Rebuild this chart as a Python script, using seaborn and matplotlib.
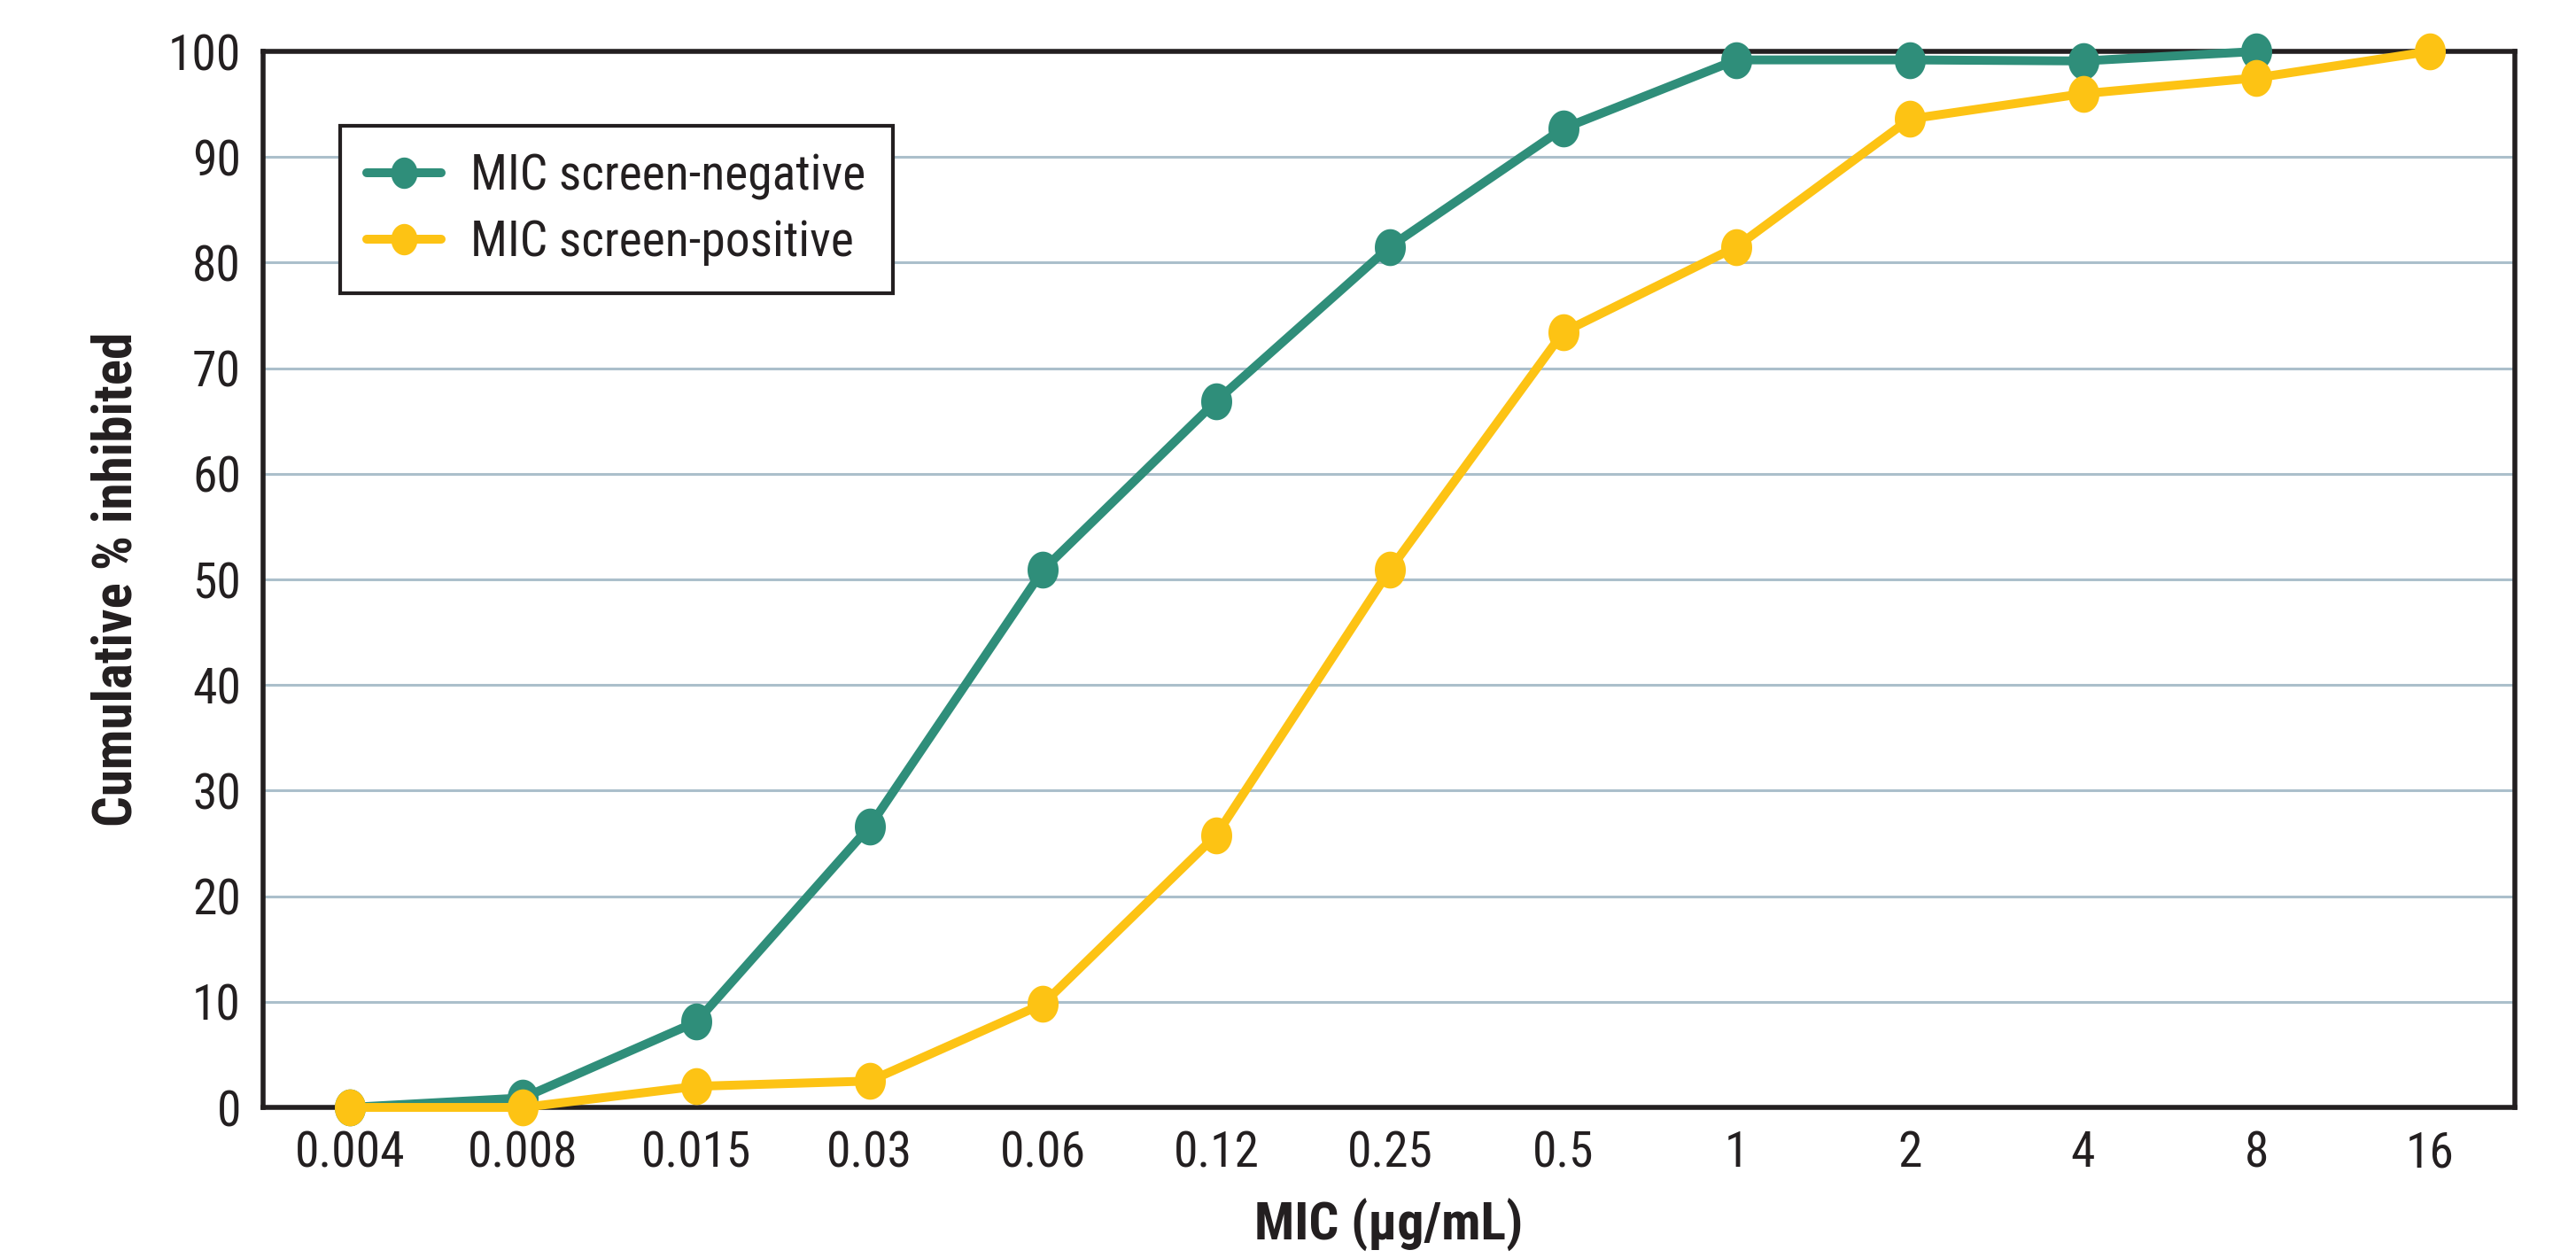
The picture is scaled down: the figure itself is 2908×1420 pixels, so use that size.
import numpy as np
import pandas as pd
import matplotlib
matplotlib.use("Agg")
import matplotlib.pyplot as plt
from matplotlib import font_manager as fm
from matplotlib.path import Path
import seaborn as sns

# ---- data ----
mic_labels = ["0.004", "0.008", "0.015", "0.03", "0.06", "0.12", "0.25",
              "0.5", "1", "2", "4", "8", "16"]
screen_negative = [0, 0.9, 8.1, 26.6, 50.9, 66.9, 81.5, 92.7, 99.2, 99.2, 99.1, 100]
screen_positive = [0, 0, 2.0, 2.5, 9.8, 25.8, 50.9, 73.4, 81.5, 93.6, 96.0, 97.5, 100]
series_names = ["MIC screen-negative", "MIC screen-positive"]
y_ticks = [0, 10, 20, 30, 40, 50, 60, 70, 80, 90, 100]

rows = []
for name, vals in zip(series_names, [screen_negative, screen_positive]):
    for i, v in enumerate(vals):
        rows.append({"pos": i, "value": v, "series": name})
df = pd.DataFrame(rows)

sns.set_theme(style="white")
available = {f.name for f in fm.fontManager.ttflist}
font = "Liberation Sans"
for cand in ["Liberation Sans Narrow", "Arial Narrow", "Roboto Condensed",
             "DejaVu Sans Condensed", "Liberation Sans"]:
    if cand in available:
        font = cand
        break
plt.rcParams["font.family"] = [font, "DejaVu Sans"]

GREEN = "#2f8e7a"
YELLOW = "#fdc314"
GRID = "#abbfcb"
INK = "#231f20"

theta = np.linspace(0, 2 * np.pi, 64)
ellipse = Path(np.column_stack([0.84 * np.cos(theta), np.sin(theta)]))

fig = plt.figure(figsize=(29.08, 14.20), dpi=100)
ax = fig.add_axes([0.1021, 0.1197, 0.8741, 0.8394])

sns.lineplot(data=df, x="pos", y="value", hue="series",
             palette=[GREEN, YELLOW], hue_order=series_names,
             marker=ellipse, markersize=30, markeredgewidth=0,
             linewidth=7.2, ax=ax, sort=False, zorder=3, clip_on=False)

ax.set_xlim(-0.5, 12.49)
ax.set_ylim(0, 100)
ax.set_xticks(range(len(mic_labels)))
ax.set_xticklabels(mic_labels)
ax.set_yticks(y_ticks)
ax.grid(axis="y", color=GRID, linewidth=2.2, zorder=0)
ax.grid(axis="x", visible=False)
ax.set_axisbelow(True)

ax.tick_params(axis="x", direction="in", length=22, width=2.2, color=GRID,
               labelsize=40, labelcolor=INK, pad=18)
ax.tick_params(axis="y", length=0, labelsize=40, labelcolor=INK, pad=18)

for s in ax.spines.values():
    s.set_color(INK)
    s.set_linewidth(4)
    s.set_zorder(2)

ax.set_xlabel("MIC (µg/mL)", fontsize=43, fontweight="bold", color=INK, labelpad=18)
ax.set_ylabel("Cumulative % inhibited", fontsize=44, fontweight="bold", color=INK, labelpad=21)

leg = ax.legend(loc="upper left", bbox_to_anchor=(0.0342, 0.9295),
                borderaxespad=0, fontsize=40, frameon=True, fancybox=False,
                handlelength=1.5, handletextpad=0.6, labelspacing=0.38,
                borderpad=0.55, markerscale=0.85)
leg.get_frame().set_edgecolor(INK)
leg.get_frame().set_linewidth(3)
leg.get_frame().set_facecolor("white")
leg.get_frame().set_alpha(1)
for t in leg.get_texts():
    t.set_color(INK)

fig.savefig("out.png", dpi=100, facecolor="white")
